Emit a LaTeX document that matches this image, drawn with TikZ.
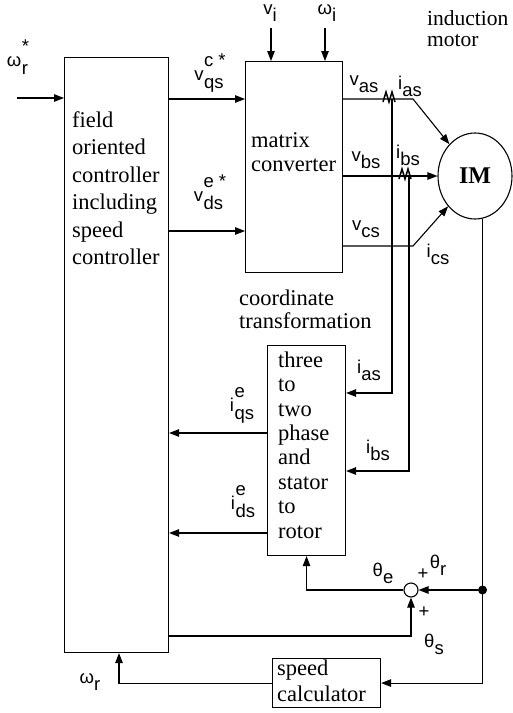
\documentclass[tikz,border=0pt]{standalone}
\usepackage{fontspec}
\setmainfont{Liberation Serif}
\setsansfont{Liberation Sans}
\usetikzlibrary{arrows.meta,shapes.geometric}

\newcommand{\sig}[2]{#1\raisebox{-7pt}{#2}}
\newcommand{\sigs}[3]{\raisebox{8pt}{#1}\kern0.5pt\begin{tabular}[b]{@{}l@{}}#3\\[3pt]#2\end{tabular}}

\begin{document}
\begin{tikzpicture}[x=1pt, y=-1pt,
    block/.style={rectangle, draw, line width=1.1pt, inner sep=0pt, anchor=north west},
    txt/.style={inner sep=0pt, anchor=north west, align=left, font=\fontsize{22.5}{24}\selectfont},
    lab/.style={inner sep=0pt, font=\fontsize{18.5}{18.5}\selectfont\sffamily},
    line/.style={draw, line width=1.1pt, -{Triangle[length=10pt,width=7.5pt]}},
    sensor/.style={draw, line width=1.5pt},
    sumnode/.style={circle, draw, line width=1.1pt, inner sep=0pt, minimum size=14pt},
    dot/.style={circle, fill, inner sep=0pt, minimum size=9pt}
]
\useasboundingbox (0,0) rectangle (512,713);

% Blocks
\node[block, minimum width=104pt, minimum height=595pt] (foc) at (64,57) {};
\node[block, minimum width=97pt, minimum height=211pt] (mc) at (245,61) {};
\node[block, minimum width=78pt, minimum height=210pt] (ctt) at (267,345) {};
\node[block, minimum width=108pt, minimum height=49pt] (spd) at (272,658) {};
\node[ellipse, draw, line width=1.1pt, minimum width=74pt, minimum height=86pt, inner sep=0pt, font=\fontsize{24}{24}\selectfont\bfseries] (im) at (475,176) {IM};

% Block texts
\node[txt, font=\fontsize{22.5}{27.4}\selectfont] (foctxt) at (72,111.5) {field\\oriented\\controller\\including\\speed\\controller};
\node[txt] (mctxt) at (251,132.5) {matrix\\converter};
\node[txt, font=\fontsize{22.5}{23}\selectfont] (cttitle) at (239,289.5) {coordinate\\transformation};
\node[txt, font=\fontsize{22.5}{24.4}\selectfont] (ctttxt) at (278,351.5) {three\\to\\two\\phase\\and\\stator\\to\\rotor};
\node[txt, font=\fontsize{22.5}{26}\selectfont] (spdtxt) at (277,659.5) {speed\\calculator};
\node[txt, font=\fontsize{21.5}{21}\selectfont] (imtxt) at (427,10.5) {induction\\motor};

% Speed reference
\coordinate (wref) at (17,98);
\draw[line] (wref) -- (wref -| foc.west);
\node[lab] (lwref) at (18,60) {\sigs{ω}{r}{*}};

% Voltage commands
\draw[line] (foc.east |- 0,99) -- (mc.west |- 0,99);
\node[lab] (lvq) at (210,74) {\sigs{v}{qs}{c *}};
\draw[line] (foc.east |- 0,231) -- (mc.west |- 0,231);
\node[lab] (lvd) at (210,195) {\sigs{v}{ds}{e *}};

% Converter inputs
\coordinate (vi) at (271,28);
\coordinate (wi) at (325,28);
\draw[line] (vi) -- (vi |- mc.north);
\draw[line] (wi) -- (wi |- mc.north);
\node[lab] (lvi) at (270,13) {\sig{v}{i}};
\node[lab] (lwi) at (327,13) {\sig{ω}{i}};

% Converter outputs to motor
\coordinate (ka) at (413,99);
\coordinate (kc) at (413,246);
\draw[line] (mc.east |- ka) -- (ka) -- (im);
\draw[line] (mc.east |- im) -- (im);
\draw[line] (mc.east |- kc) -- (kc) -- (im);
\node[lab] (lva) at (364,84) {\sig{v}{as}};
\node[lab] (lvb) at (366,160) {\sig{v}{bs}};
\node[lab] (lvc) at (366,229) {\sig{v}{cs}};
\node[lab] (lia) at (410,86) {\sig{i}{as}};
\node[lab] (lib) at (408,155) {\sig{i}{bs}};
\node[lab] (lic) at (438,254) {\sig{i}{cs}};

% Current sensors
\coordinate (sa) at (389,99);
\coordinate (sb) at (405,176);
\draw[sensor] (sa) ++(-6,3) -- ++(3,-10) -- ++(3,10) -- ++(3,-10) -- ++(3,10);
\draw[sensor] (sb) ++(-6,3) -- ++(3,-10) -- ++(3,10) -- ++(3,-10) -- ++(3,10);
\draw[line] ([xshift=3pt]sa) |- (ctt.east |- 0,393);
\draw[line] ([xshift=4pt]sb) |- (ctt.east |- 0,471);
\node[lab] (lia2) at (369,370) {\sig{i}{as}};
\node[lab] (lib2) at (378,450) {\sig{i}{bs}};

% Transformed currents
\draw[line] (ctt.west |- 0,433) -- (foc.east |- 0,433);
\draw[line] (ctt.west |- 0,533) -- (foc.east |- 0,533);
\node[lab] (liq) at (242,405) {\sigs{i}{qs}{e}};
\node[lab] (lid) at (243,503) {\sigs{i}{ds}{e}};

% Angle summation
\node[sumnode] (sum) at (411,590) {};
\node[dot] (tap) at (im.-80 |- 0,590) {};
\draw[line] (im.-80) |- (spd.east);
\draw[line] (tap) -- (sum);
\draw[line] (sum) -| (ctt.south);
\draw[line] (foc.east |- 0,636) -| (sum.south);
\node[lab] (lte) at (383,573) {\sig{θ}{e}};
\node[lab] (lpr) at (423,574) {+};
\node[lab] (ltr) at (438,565) {\sig{θ}{r}};
\node[lab] (lps) at (424,612) {+};
\node[lab] (lts) at (434,644) {\sig{θ}{s}};

% Speed feedback
\draw[line] (spd.west) -| (foc.south -| 119,0);
\node[lab] (lwr) at (90,682) {\sig{ω}{r}};

\end{tikzpicture}
\end{document}
